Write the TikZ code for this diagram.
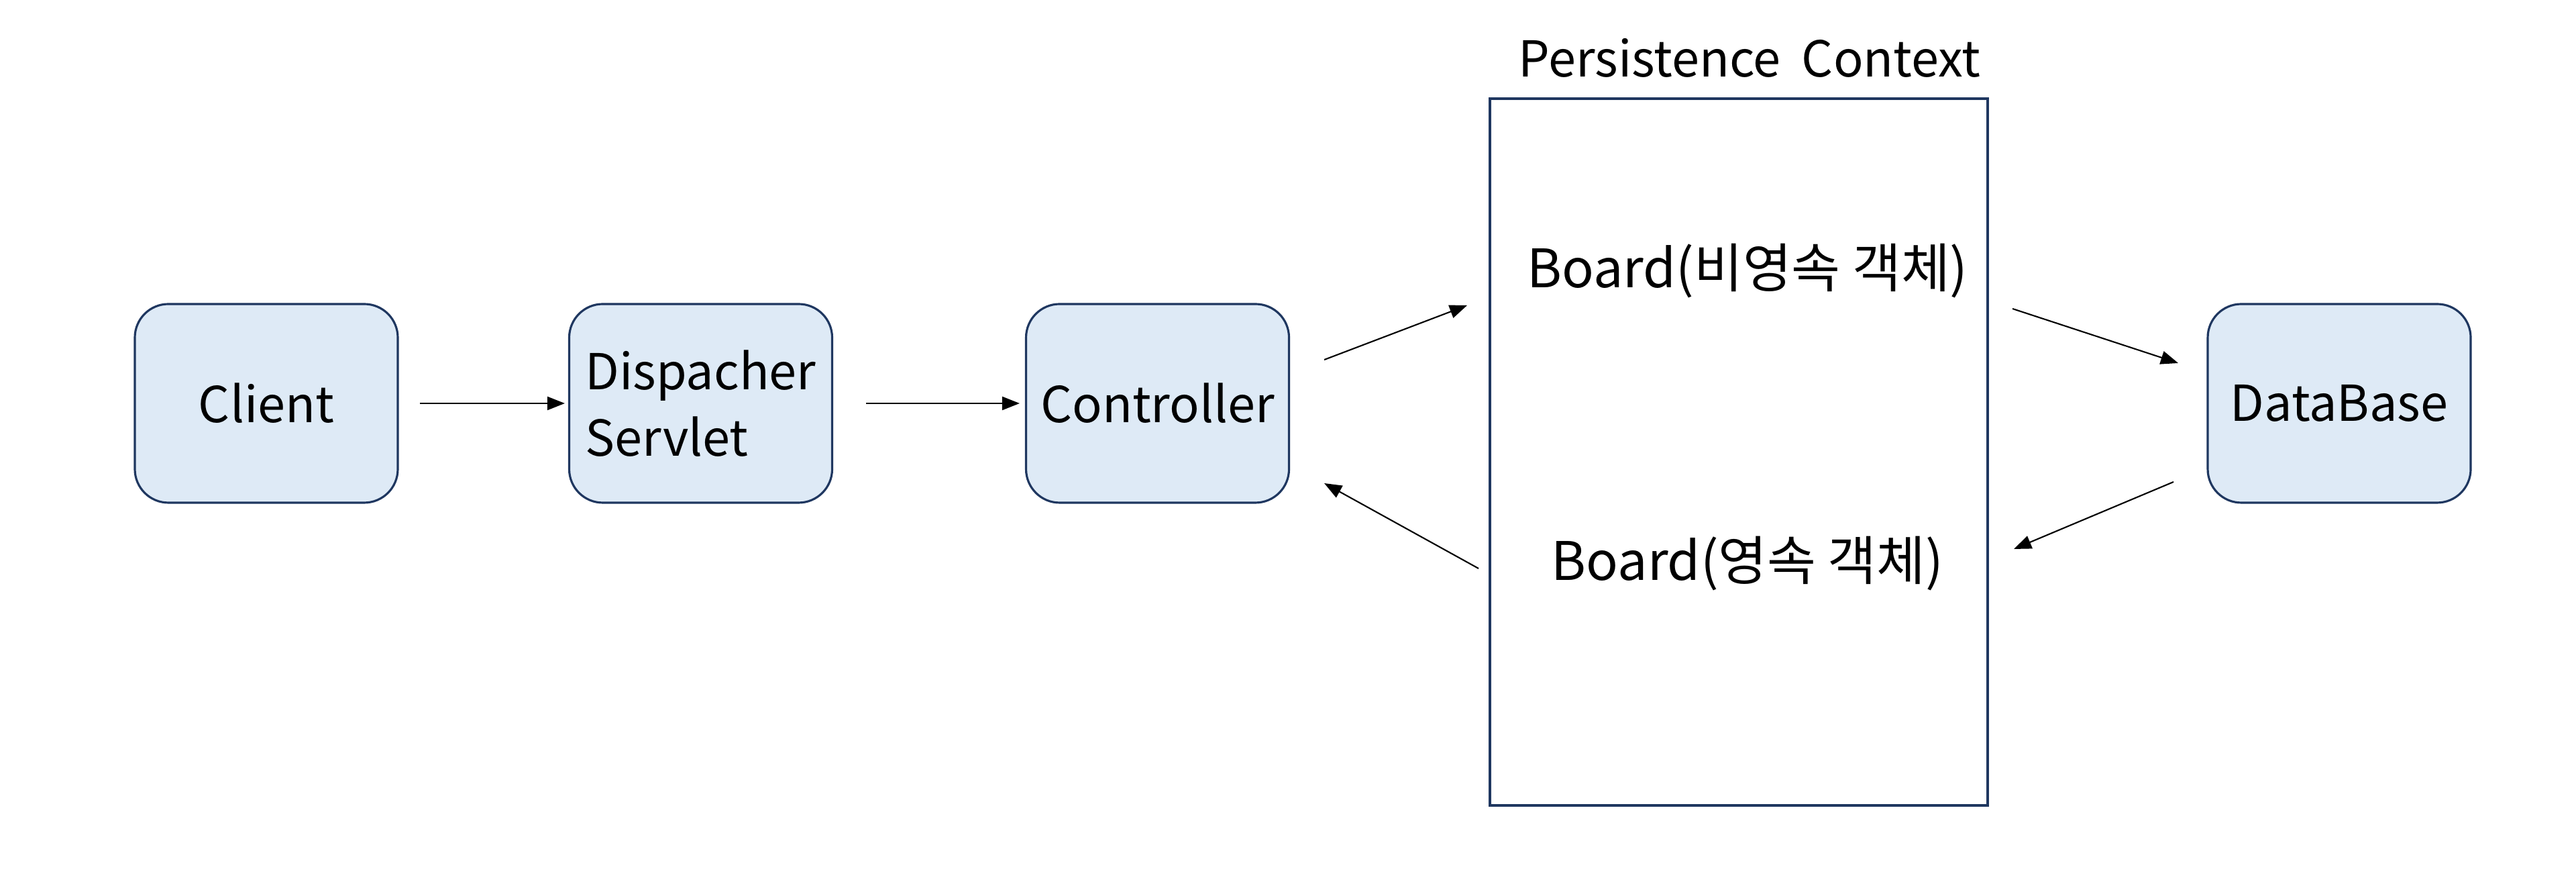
\documentclass[tikz,border=0pt]{standalone}
\usepackage{fontspec}
\setmainfont{Noto Sans CJK KR}
\usetikzlibrary{arrows.meta}
\definecolor{boxline}{HTML}{1F3760}
\definecolor{boxfill}{HTML}{DEEAF6}
\begin{document}
\begin{tikzpicture}[
  font=\fontsize{21}{28}\selectfont,
  rbox/.style={draw=boxline, fill=boxfill, line width=0.9pt, rounded corners=0.5cm,
    minimum width=3.92cm, minimum height=2.96cm, inner sep=2pt, align=left},
  arr/.style={line width=0.6pt, -{Triangle[length=0.26cm, width=0.2cm]}},
  plain/.style={inner sep=0pt},
  blabel/.style={inner sep=0pt, font=\fontsize{22.5}{28}\selectfont}
]
\useasboundingbox (0,0) rectangle (38.4,13.29);
\node[rbox] (client) at (3.97,7.28) {Client};
\node[rbox] (disp) at (10.445,7.28) {Dispacher\\Servlet};
\node[rbox] (ctrl) at (17.255,7.28) {Controller};
\node[rbox] (db) at (34.87,7.28) {DataBase};
\node[draw=boxline, line width=1.1pt, minimum width=7.42cm, minimum height=10.53cm, inner sep=0pt] (pc) at (25.92,6.555) {};
\node[plain] (title) at (26.08,12.43) {Persistence\hspace{0.2em} Context};
\node[blabel] (b1) at (26.05,9.25) {Board(비영속 객체)};
\node[blabel] (b2) at (26.05,4.89) {Board(영속 객체)};

\coordinate (c1s) at (19.74,7.93);
\coordinate (c1e) at (21.87,8.74);
\coordinate (c2s) at (22.04,4.82);
\coordinate (c2e) at (19.74,6.09);
\coordinate (d1s) at (30.00,8.69);
\coordinate (d1e) at (32.47,7.88);
\coordinate (d2s) at (32.40,6.11);
\coordinate (d2e) at (30.02,5.11);

\draw[arr, shorten <=0.31cm, shorten >=0.05cm] (client.east) -- (disp.west);
\draw[arr, shorten <=0.49cm, shorten >=0.08cm] (disp.east) -- (ctrl.west);
\draw[arr] (c1s) -- (c1e);
\draw[arr] (c2s) -- (c2e);
\draw[arr] (d1s) -- (d1e);
\draw[arr] (d2s) -- (d2e);
\end{tikzpicture}
\end{document}
